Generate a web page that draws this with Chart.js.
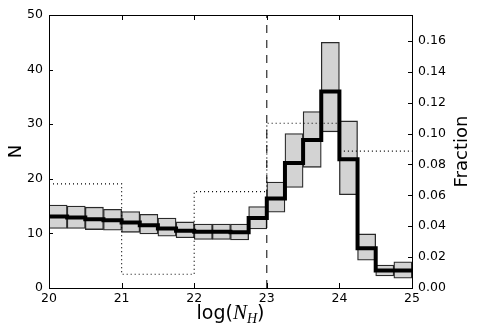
<!DOCTYPE html>
<html lang="en">
<head>
<meta charset="UTF-8">
<title>N_H histogram</title>
<script src="https://cdn.jsdelivr.net/npm/chart.js"></script>
<style>
  html, body { margin: 0; padding: 0; background: #fff; }
</style>
</head>
<body>
<canvas id="myChart" width="480" height="335"></canvas>
<script>
// left edges of the 0.25 dex bins
const binLefts = [20, 20.25, 20.5, 20.75, 21, 21.25, 21.5, 21.75, 22, 22.25,
                  22.5, 22.75, 23, 23.25, 23.5, 23.75, 24, 24.25, 24.5, 24.75];
const binRight = 25;
// counts per bin (thick line) and error boxes
const counts  = [13.1, 12.9, 12.6, 12.4, 12.0, 11.5, 10.9, 10.5, 10.3, 10.3,
                 10.2, 12.8, 16.4, 22.9, 27.1, 36.0, 23.6, 7.3, 3.2, 3.2];
const errLow  = [10.9, 10.9, 10.7, 10.6, 10.2, 9.9, 9.5, 9.2, 8.9, 8.9,
                 8.8, 10.8, 13.9, 18.4, 22.1, 28.6, 17.1, 5.1, 2.2, 1.8];
const errHigh = [15.2, 15.0, 14.8, 14.4, 14.0, 13.5, 12.8, 12.1, 11.7, 11.7,
                 11.7, 14.9, 19.4, 28.3, 32.3, 45.0, 30.6, 9.9, 4.2, 4.8];
// fraction histogram in 1 dex bins (dotted line, right axis)
const fracLefts = [20, 21, 22, 23, 24];
const fractions = [0.0674, 0.0089, 0.0624, 0.1067, 0.0887];
// dividing line
const cutValue = 23;

const xTicks = [20, 21, 22, 23, 24, 25];
const nTicks = [0, 10, 20, 30, 40, 50];
const fracTicks = [0, 0.02, 0.04, 0.06, 0.08, 0.10, 0.12, 0.14, 0.16];
const fracMax = 0.1768;

const binWidth = binLefts[1] - binLefts[0];
const boxData = binLefts.map((x, i) => ({ x: x + binWidth / 2, y: [errLow[i], errHigh[i]] }));
// each value is held over the interval ending at its point
const stepData = [{ x: binLefts[0], y: counts[0] }].concat(
  counts.map((c, i) => ({ x: i + 1 < binLefts.length ? binLefts[i + 1] : binRight, y: c })));
const fracData = [{ x: fracLefts[0], y: fractions[0] }].concat(
  fractions.map((f, i) => ({ x: i + 1 < fracLefts.length ? fracLefts[i + 1] : binRight, y: f })));

const tickFont = { family: 'DejaVu Sans', size: 12.5 };

// inward ticks, frame and the custom axis labels
const framePlugin = {
  id: 'frame',
  afterDraw(chart) {
    const ctx = chart.ctx;
    const a = chart.chartArea;
    const sx = chart.scales.x, sy = chart.scales.y, sf = chart.scales.y2;
    ctx.save();
    ctx.strokeStyle = '#000';
    ctx.lineWidth = 1;
    ctx.beginPath();
    sx.ticks.forEach(t => {
      const p = Math.round(sx.getPixelForValue(t.value)) + 0.5;
      ctx.moveTo(p, a.bottom); ctx.lineTo(p, a.bottom - 5);
      ctx.moveTo(p, a.top); ctx.lineTo(p, a.top + 5);
    });
    sy.ticks.forEach(t => {
      const p = Math.round(sy.getPixelForValue(t.value)) + 0.5;
      ctx.moveTo(a.left, p); ctx.lineTo(a.left + 4, p);
    });
    sf.ticks.forEach(t => {
      const p = Math.round(sf.getPixelForValue(t.value)) + 0.5;
      ctx.moveTo(a.right, p); ctx.lineTo(a.right - 4, p);
    });
    ctx.stroke();
    ctx.strokeRect(Math.round(a.left) + 0.5, Math.round(a.top) + 0.5,
                   Math.round(a.right - a.left), Math.round(a.bottom - a.top));

    // right axis title, reading upward
    ctx.fillStyle = '#000';
    ctx.font = '18px "DejaVu Sans"';
    ctx.textAlign = 'center';
    ctx.textBaseline = 'middle';
    ctx.translate(462, (a.top + a.bottom) / 2);
    ctx.rotate(-Math.PI / 2);
    ctx.fillText('Fraction', 0, 0);
    ctx.setTransform(1, 0, 0, 1, 0, 0);

    // x title: log(N_H)
    const parts = [
      { t: 'log(', f: '19px "DejaVu Sans"', dy: 0 },
      { t: 'N', f: 'italic 21px "Liberation Serif"', dy: 0 },
      { t: 'H', f: 'italic 14px "Liberation Serif"', dy: 4 },
      { t: ')', f: '19px "DejaVu Sans"', dy: 0 }
    ];
    let total = 0;
    parts.forEach(p => { ctx.font = p.f; p.w = ctx.measureText(p.t).width; total += p.w; });
    let x = (a.left + a.right) / 2 - total / 2;
    ctx.textAlign = 'left';
    ctx.textBaseline = 'alphabetic';
    parts.forEach(p => {
      ctx.font = p.f;
      ctx.fillText(p.t, x, 319 + p.dy);
      x += p.w;
    });
    ctx.restore();
  }
};

var ctx = document.getElementById('myChart').getContext('2d');
var myChart = new Chart(ctx, {
  type: 'bar',
  data: {
    datasets: [{
      type: 'line',
      data: stepData,
      stepped: 'after',
      borderColor: '#000',
      borderWidth: 4,
      pointRadius: 0,
      yAxisID: 'y',
      order: 1
    }, {
      type: 'line',
      data: [{ x: cutValue, y: nTicks[0] }, { x: cutValue, y: nTicks[nTicks.length - 1] }],
      borderColor: '#000',
      borderWidth: 1,
      borderDash: [8, 7],
      pointRadius: 0,
      yAxisID: 'y',
      order: 0
    }, {
      type: 'line',
      data: fracData,
      stepped: 'after',
      borderColor: '#000',
      borderWidth: 1.2,
      borderDash: [1, 3],
      pointRadius: 0,
      yAxisID: 'y2',
      order: 2
    }, {
      type: 'bar',
      data: boxData,
      backgroundColor: '#d3d3d3',
      borderColor: '#2a2a2a',
      borderWidth: 1.3,
      borderSkipped: false,
      barPercentage: 1,
      categoryPercentage: 1,
      yAxisID: 'y',
      order: 3
    }]
  },
  options: {
    responsive: false,
    animation: false,
    events: [],
    layout: { padding: { top: 15, left: 0, right: 0, bottom: 0 } },
    plugins: { legend: { display: false }, tooltip: { enabled: false } },
    scales: {
      x: {
        type: 'linear',
        min: xTicks[0], max: xTicks[xTicks.length - 1],
        offset: false,
        grid: { display: false, drawTicks: false },
        border: { display: false },
        afterBuildTicks: s => { s.ticks = xTicks.map(v => ({ value: v })); },
        afterFit: s => { s.height = 47; },
        ticks: { font: tickFont, color: '#000', padding: 3, maxRotation: 0 }
      },
      y: {
        position: 'left',
        min: nTicks[0], max: nTicks[nTicks.length - 1],
        grid: { display: false, drawTicks: false },
        border: { display: false },
        afterBuildTicks: s => { s.ticks = nTicks.map(v => ({ value: v })); },
        afterFit: s => { s.width = 49; },
        ticks: { font: tickFont, color: '#000', padding: 6 },
        title: { display: true, text: 'N', color: '#000',
                 font: { family: 'DejaVu Sans', size: 18 }, padding: { top: 6, bottom: 0 } }
      },
      y2: {
        position: 'right',
        min: 0, max: fracMax,
        grid: { display: false, drawTicks: false },
        border: { display: false },
        afterBuildTicks: s => { s.ticks = fracTicks.map(v => ({ value: v })); },
        afterFit: s => { s.width = 68; },
        ticks: { font: tickFont, color: '#000', padding: 6,
                 callback: v => v.toFixed(2) }
      }
    }
  },
  plugins: [framePlugin]
});
</script>
</body>
</html>
